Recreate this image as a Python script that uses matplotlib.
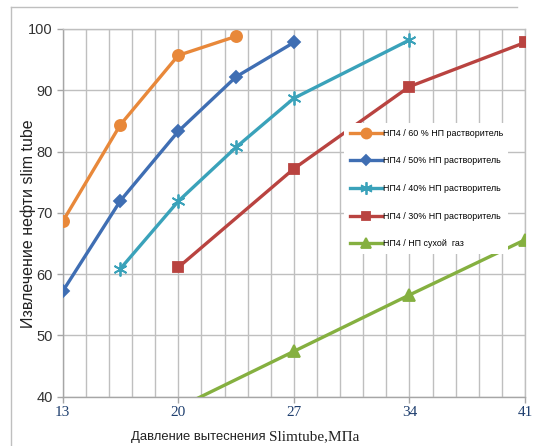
import numpy as np
import matplotlib

matplotlib.use("Agg")

import matplotlib.pyplot as plt
from matplotlib.lines import Line2D

# pressure (MPa) and recovery (%)
x_60 = [13, 16.5, 20, 23.5]
y_60 = [68.6, 84.4, 95.7, 98.8]

x_50 = [13, 16.5, 20, 23.5, 27]
y_50 = [57.2, 72.0, 83.3, 92.2, 97.8]

x_40 = [16.5, 20, 23.5, 27, 34]
y_40 = [60.9, 71.9, 80.7, 88.7, 98.2]

x_30 = [20, 27, 34, 41]
y_30 = [61.1, 77.2, 90.6, 97.8]

x_gas = [20, 27, 34, 41]
y_gas = [38.2, 47.4, 56.6, 65.6]

labels = [
    "НП4 / 60 % НП растворитель",
    "НП4 / 50% НП растворитель",
    "НП4 / 40% НП растворитель",
    "НП4 / 30% НП растворитель",
    "НП4 / НП сухой  газ",
]

x_ticks = [13, 20, 27, 34, 41]
y_ticks = [40, 50, 60, 70, 80, 90, 100]

fig = plt.figure(figsize=(5.39, 4.46), dpi=100)
ax = fig.add_axes([62.7 / 539, 1 - 396.7 / 446, (525 - 62.7) / 539, (396.7 - 29) / 446])

grid_color = "#BFBFBF"
series = [
    (x_60, y_60, "#E8883A", "o", 8),
    (x_50, y_50, "#3F6EB3", "D", 6),
    (x_40, y_40, "#3AA2BA", (6, 2, 0), 10),
    (x_30, y_30, "#B94340", "s", 7),
    (x_gas, y_gas, "#85B040", "^", 8),
]

for (xs, ys, color, marker, ms), label in zip(series, labels):
    ax.plot(xs, ys, color=color, lw=2.4, marker=marker, ms=ms,
            mec=color, mfc=color, mew=1.3, label=label, zorder=3)

ax.set_xlim(13, 41)
ax.set_ylim(40, 100)
ax.set_xticks(x_ticks)
ax.set_yticks(y_ticks)
ax.set_xticks(np.arange(13, 41.01, 1.4), minor=True)
ax.grid(True, which="minor", axis="x", color=grid_color, lw=1)
ax.grid(True, which="major", axis="both", color=grid_color, lw=1)
ax.set_axisbelow(True)
ax.tick_params(axis="x", which="minor", length=0)
ax.tick_params(axis="both", which="major", length=4, color="#A6A6A6", width=1)

for spine in ax.spines.values():
    spine.set_color(grid_color)
    spine.set_linewidth(1)
ax.spines["left"].set_color("#A6A6A6")
ax.spines["bottom"].set_color("#A6A6A6")

ax.set_xticklabels([str(v) for v in x_ticks], family="Liberation Serif",
                   fontsize=11, color="#1F3F6F")
ax.set_yticklabels([str(v) for v in y_ticks], family="Liberation Sans",
                   fontsize=10.5, color="#333333")
ax.tick_params(axis="x", pad=3)
ax.tick_params(axis="y", pad=3)

ax.set_ylabel("Извлечение нефти slim tube", family="Liberation Sans",
              fontsize=11.5, color="#222222", va="center")
ax.yaxis.set_label_coords(-0.075, 0.47)

# x label: sans part + serif part, shifted left as in the source
fig.text(266 / 539, 1 - 437 / 446, "Давление вытеснения", family="Liberation Sans",
         fontsize=9.4, color="#222222", ha="right", va="center")
fig.text(269 / 539, 1 - 437 / 446, "Slimtube,МПа", family="Liberation Serif",
         fontsize=11, color="#222222", ha="left", va="center")

leg = ax.legend(loc="upper left", bbox_to_anchor=(340 / 539, 1 - 119 / 446),
                bbox_transform=fig.transFigure, prop={"family": "Liberation Sans", "size": 6.4},
                frameon=True, facecolor="white", edgecolor="none", framealpha=1,
                fancybox=False, handlelength=3.6, handletextpad=0.1,
                labelspacing=2.1, borderpad=0.6, markerscale=0.9)
leg.set_zorder(5)

# outer chart border (left and top edges visible)
fig.add_artist(Line2D([11 / 539, 11 / 539], [0, 1 - 7 / 446], color="#BFBFBF",
                      lw=1, transform=fig.transFigure))
fig.add_artist(Line2D([11 / 539, 517 / 539], [1 - 7 / 446, 1 - 7 / 446], color="#BFBFBF",
                      lw=1, transform=fig.transFigure))

fig.savefig("out.png", dpi=100)
plt.close(fig)
